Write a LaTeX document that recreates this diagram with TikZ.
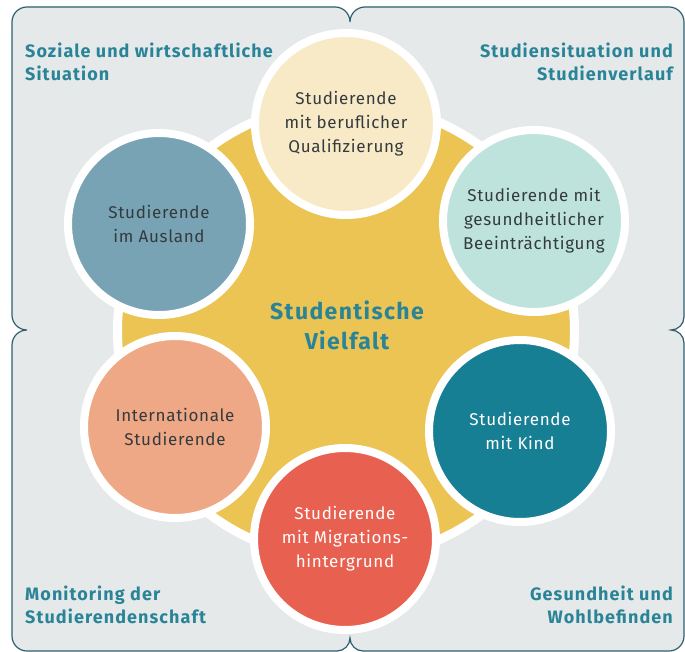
\documentclass[tikz,border=0pt]{standalone}
\usepackage{fontspec}
\setmainfont{Fira Sans}
\usepackage{tikz}
\definecolor{rahmen}{HTML}{2D5F6E}
\definecolor{grau}{HTML}{E6E9EA}
\definecolor{gelb}{HTML}{EBC454}
\definecolor{titel}{HTML}{2A8497}
\definecolor{schrift}{HTML}{343A3E}
\definecolor{creme}{HTML}{F8EAC6}
\definecolor{mint}{HTML}{BDE3DC}
\definecolor{petrol}{HTML}{177F94}
\definecolor{koralle}{HTML}{E86050}
\definecolor{lachs}{HTML}{EEA886}
\definecolor{graublau}{HTML}{78A3B4}
\tikzset{bubble/.style={circle,draw=white,line width=8pt,minimum size=182pt,
    align=center,inner sep=0pt,
    font=\fontsize{17}{24}\selectfont\addfontfeatures{LetterSpace=4}},
  bereich/.style={text=titel,inner sep=0pt,
    font=\fontsize{18}{23}\selectfont\bfseries\addfontfeatures{LetterSpace=6}}}

\begin{document}
\begin{tikzpicture}[x=1pt, y=-1pt]
    \useasboundingbox[fill=white] (0,0) rectangle (685,652);
    % grauer Rahmen mit Kerben
    \draw[fill=grau, draw=rahmen, line width=1.2pt]
      (27,7) -- (335,7) .. controls (343.3,7) and (350,13.7) .. (350,22)
      .. controls (350,13.7) and (356.7,7) .. (365,7)
      -- (669,7) .. controls (677.3,7) and (684,13.7) .. (684,22)
      -- (684,317) .. controls (684,324.2) and (678.2,330) .. (671,330)
      .. controls (678.2,330) and (684,335.8) .. (684,343)
      -- (684,636) .. controls (684,644.3) and (677.3,651) .. (669,651)
      -- (363,651) .. controls (355.8,651) and (350,645.2) .. (350,638)
      .. controls (350,645.2) and (344.2,651) .. (337,651)
      -- (27,651) .. controls (18.7,651) and (12,644.3) .. (12,636)
      -- (12,345) .. controls (12,336.7) and (18.7,330) .. (27,330)
      .. controls (18.7,330) and (12,323.3) .. (12,315)
      -- (12,22) .. controls (12,13.7) and (18.7,7) .. (27,7) -- cycle;

    \node[bereich, anchor=west, align=left] (soziales) at (25,61.5)
      {Soziale und wirtschaftliche\\Situation};
    \node[bereich, anchor=east, align=right] (studium) at (673,61.5)
      {Studiensituation und\\Studienverlauf};
    \node[bereich, anchor=west, align=left] (monitoring) at (25,605)
      {Monitoring der\\Studierendenschaft};
    \node[bereich, anchor=east, align=right] (gesundheit) at (673,605)
      {Gesundheit und\\Wohlbefinden};

    % gelbe Mitte
    \node[circle, fill=gelb, draw=white, line width=9pt, minimum size=457pt]
      (mitte) at (346,331) {};
    \node[text=titel, align=center,
      font=\fontsize{23}{30}\selectfont\bfseries\addfontfeatures{LetterSpace=6}]
      (vielfalt) at (347,325) {Studentische\\Vielfalt};

    \node[bubble, fill=creme, text=schrift] (c-oben) at (346,124)
      {Studierende\\mit beruflicher\\Qualifizierung};
    \node[bubble, fill=mint, text=schrift] (c-rechts-oben) at (534,221)
      {Studierende mit\\gesundheitlicher\\Beeinträchtigung};
    \node[bubble, fill=petrol, text=white] (c-rechts-unten) at (520,431)
      {Studierende\\mit Kind};
    \node[bubble, fill=koralle, text=white] (c-unten) at (345,539)
      {Studierende\\mit Migrations-\\hintergrund};
    \node[bubble, fill=lachs, text=schrift] (c-links-unten) at (175,427)
      {Internationale\\Studierende};
    \node[bubble, fill=graublau, text=schrift] (c-links-oben) at (159,224)
      {Studierende\\im Ausland};
\end{tikzpicture}
\end{document}
